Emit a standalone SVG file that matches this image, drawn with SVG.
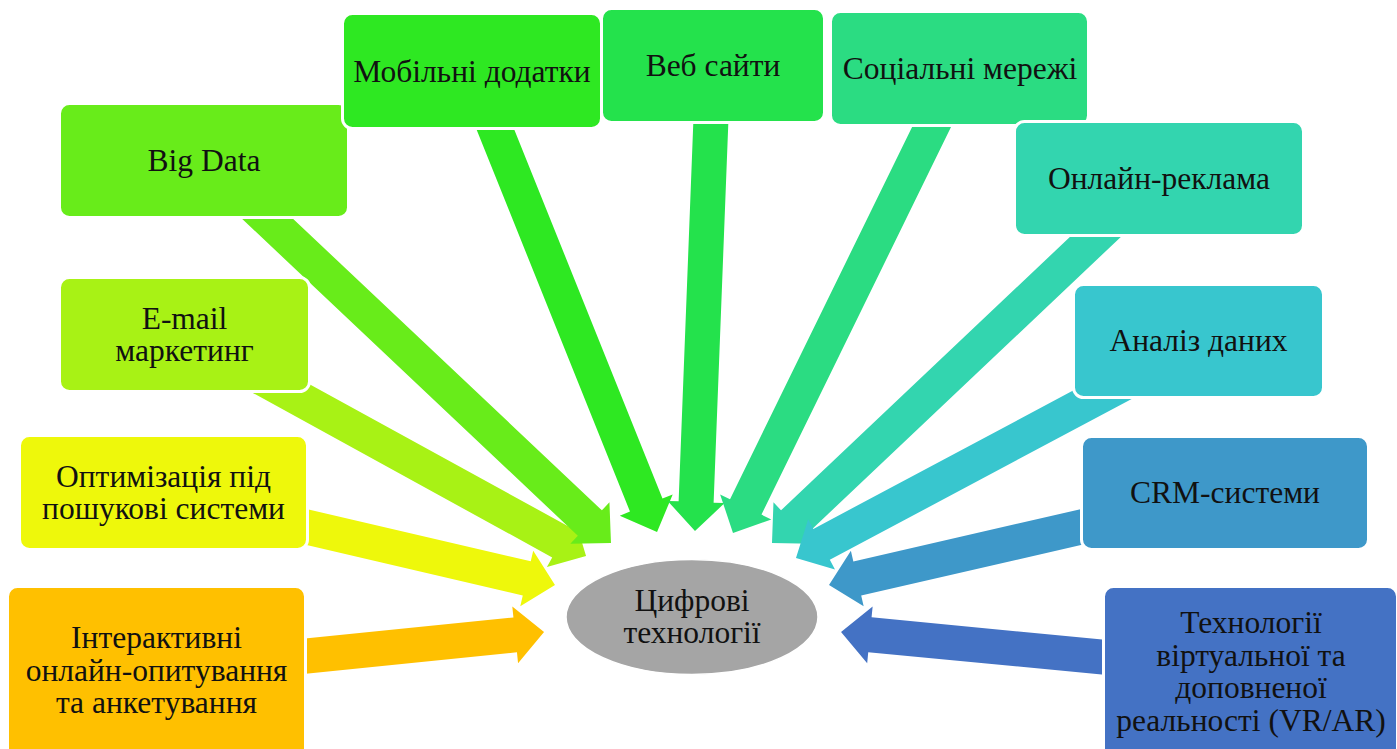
<svg xmlns="http://www.w3.org/2000/svg" width="1397" height="749" viewBox="0 0 1397 749">
<style>
.box{stroke:#ffffff;stroke-width:3}
.t{font-family:"Liberation Serif","Times New Roman",serif;font-size:31.5px;fill:#111111;text-anchor:middle}
</style>
<rect x="0" y="0" width="1397" height="749" fill="#ffffff"/>
<g id="connectors">
<path transform="translate(297,657) rotate(-5.78)" fill="#FFC000" d="M-20,-17.5H219.3V-28.5L248.3,0L219.3,28.5V17.5H-20Z"/>
<path transform="translate(298,525) rotate(13.14)" fill="#EEF80B" d="M-20,-17.5H234.9V-28.5L263.9,0L234.9,28.5V17.5H-20Z"/>
<path transform="translate(261.4,377.7) rotate(28.78)" fill="#A8F215" d="M-20,-17.5H341.4V-28.5L370.4,0L341.4,28.5V17.5H-20Z"/>
<path transform="translate(254,206) rotate(43.35)" fill="#68EC1A" d="M-20,-17.5H461.9V-28.5L490.9,0L461.9,28.5V17.5H-20Z"/>
<path transform="translate(493,123.5) rotate(68.12)" fill="#2EE822" d="M-20,-17.5H411.2V-28.5L440.2,0L411.2,28.5V17.5H-20Z"/>
<path transform="translate(711,118) rotate(92.22)" fill="#24E24C" d="M-20,-17.5H384.3V-28.5L413.3,0L384.3,28.5V17.5H-20Z"/>
<path transform="translate(935.3,119.3) rotate(116.06)" fill="#2BDC82" d="M-20,-17.5H431.5V-28.5L460.5,0L431.5,28.5V17.5H-20Z"/>
<path transform="translate(1108,225) rotate(136.58)" fill="#33D5AF" d="M-20,-17.5H433.6V-28.5L462.6,0L433.6,28.5V17.5H-20Z"/>
<path transform="translate(1110,390.7) rotate(151.95)" fill="#38C6CE" d="M-20,-17.5H326.8V-28.5L355.8,0L326.8,28.5V17.5H-20Z"/>
<path transform="translate(1090,525) rotate(167.05)" fill="#3E98C9" d="M-20,-17.5H238.8V-28.5L267.8,0L238.8,28.5V17.5H-20Z"/>
<path transform="translate(1112,658) rotate(185.48)" fill="#4472C4" d="M-20,-17.5H243.2V-28.5L272.2,0L243.2,28.5V17.5H-20Z"/>
</g>
<g id="center">
<ellipse cx="692" cy="617" rx="126" ry="57.5" fill="#A5A5A5" stroke="#ffffff" stroke-width="1.5"/>
<text class="t" x="692" y="611">Цифрові</text>
<text class="t" x="692" y="643">технології</text>
</g>
<g id="n1">
<rect class="box" x="7.5" y="586.5" width="298" height="200" rx="10" fill="#FFC000"/>
<text class="t" x="156.5" y="648">Інтерактивні</text>
<text class="t" x="156.5" y="680.5">онлайн-опитування</text>
<text class="t" x="156.5" y="713">та анкетування</text>
</g>
<g id="n2">
<rect class="box" x="19.5" y="435.5" width="288" height="114" rx="10" fill="#EEF80B"/>
<text class="t" x="163.5" y="486.75">Оптимізація під</text>
<text class="t" x="163.5" y="519.25">пошукові системи</text>
</g>
<g id="n3">
<rect class="box" x="59.5" y="277.5" width="250" height="114" rx="10" fill="#A8F215"/>
<text class="t" x="184.5" y="328.75">E-mail</text>
<text class="t" x="184.5" y="361.25">маркетинг</text>
</g>
<g id="n4">
<rect class="box" x="59.5" y="103.5" width="289" height="114" rx="10" fill="#68EC1A"/>
<text class="t" x="204" y="171">Big Data</text>
</g>
<g id="n5">
<rect class="box" x="342.5" y="13.5" width="259" height="115" rx="10" fill="#2EE822"/>
<text class="t" x="472" y="82">Мобільні додатки</text>
</g>
<g id="n6">
<rect class="box" x="601.5" y="8.5" width="223" height="114" rx="10" fill="#24E24C"/>
<text class="t" x="713" y="76">Веб сайти</text>
</g>
<g id="n7">
<rect class="box" x="830.5" y="11.5" width="258" height="114" rx="10" fill="#2BDC82"/>
<text class="t" x="960" y="79">Соціальні мережі</text>
</g>
<g id="n8">
<rect class="box" x="1014.5" y="121.5" width="289" height="114" rx="10" fill="#33D5AF"/>
<text class="t" x="1159" y="188.5">Онлайн-реклама</text>
</g>
<g id="n9">
<rect class="box" x="1073.5" y="284.5" width="250" height="113" rx="10" fill="#38C6CE"/>
<text class="t" x="1198.5" y="351">Аналіз даних</text>
</g>
<g id="n10">
<rect class="box" x="1081.5" y="436.5" width="287" height="113" rx="10" fill="#3E98C9"/>
<text class="t" x="1225" y="503">CRM-системи</text>
</g>
<g id="n11">
<rect class="box" x="1103.5" y="586.5" width="294" height="200" rx="10" fill="#4472C4"/>
<text class="t" x="1251" y="633">Технології</text>
<text class="t" x="1251" y="665.5">віртуальної та</text>
<text class="t" x="1251" y="698">доповненої</text>
<text class="t" x="1251" y="730.5">реальності (VR/AR)</text>
</g>
</svg>
